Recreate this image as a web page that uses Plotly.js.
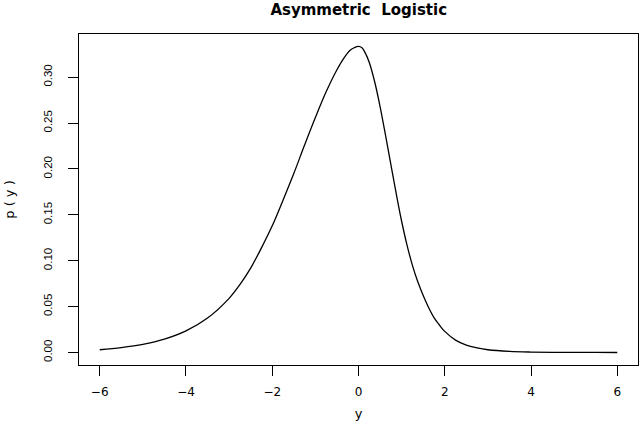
<!DOCTYPE html>
<html>
<head>
<meta charset="utf-8">
<script src="https://cdn.plot.ly/plotly-3.0.1.min.js"></script>
<style>
html, body { margin: 0; padding: 0; background: #fff; }
#chart { width: 640px; height: 421px; }
</style>
</head>
<body>
<div id="chart"></div>
<script>
// Values
const yValues = [-6, -5.5, -5, -4.5, -4, -3.5, -3, -2.75, -2.5, -2.25, -2, -1.75, -1.5, -1.25, -1, -0.75, -0.5, -0.35, -0.2, -0.1, 0,
                 0.08, 0.15, 0.25, 0.375, 0.5, 0.625, 0.75, 0.875, 1, 1.125, 1.25, 1.375, 1.5, 1.625, 1.75, 1.875, 2,
                 2.25, 2.5, 2.75, 3, 3.5, 4, 4.5, 5, 5.5, 6];
const density = [0.003, 0.0053, 0.0088, 0.0145, 0.0235, 0.0375, 0.059, 0.074, 0.092, 0.114, 0.138, 0.166, 0.195, 0.226, 0.256, 0.284, 0.308, 0.320, 0.329, 0.332, 0.3335,
                 0.332, 0.327, 0.316, 0.295, 0.268, 0.237, 0.205, 0.173, 0.143, 0.117, 0.095, 0.077, 0.062, 0.049, 0.038, 0.030, 0.023,
                 0.0135, 0.008, 0.005, 0.003, 0.0012, 0.0005, 0.0002, 0.0001, 0.00005, 0.0];
const xTicks = [-6, -4, -2, 0, 2, 4, 6];
const yTicks = [0, 0.05, 0.10, 0.15, 0.20, 0.25, 0.30];

const trace = {
  x: yValues,
  y: density,
  type: 'scatter',
  mode: 'lines',
  line: { color: '#000', width: 1.3, shape: 'spline', smoothing: 1 },
  hoverinfo: 'skip'
};

const layout = {
  width: 640,
  height: 421,
  margin: { l: 79, r: 2, t: 34, b: 56 },
  paper_bgcolor: '#fff',
  plot_bgcolor: '#fff',
  showlegend: false,
  title: {
    text: 'Asymmetric  Logistic',
    font: { family: 'DejaVu Sans', size: 15, color: '#000', weight: 'bold' },
    x: 0.5605, xanchor: 'center',
    y: 0.977, yanchor: 'middle', yref: 'container'
  },
  xaxis: {
    range: [-6.48, 6.48],
    tickvals: xTicks,
    ticktext: xTicks.map(v => v < 0 ? '\u2212' + Math.abs(v) : String(v)),
    ticks: 'outside', ticklen: 10, tickwidth: 1, tickcolor: '#000',
    ticklabelstandoff: 6,
    showline: true, linecolor: '#000', linewidth: 1, mirror: true,
    showgrid: false, zeroline: false,
    tickfont: { family: 'DejaVu Sans', size: 12, color: '#000' },
    title: { text: 'y', font: { family: 'DejaVu Sans', size: 13, color: '#000' }, standoff: 11 }
  },
  yaxis: {
    range: [-0.0136, 0.347],
    tickvals: yTicks,
    ticktext: yTicks.map(v => v.toFixed(2)),
    tickangle: -90,
    ticks: 'outside', ticklen: 10, tickwidth: 1, tickcolor: '#000',
    ticklabelstandoff: 11,
    showline: true, linecolor: '#000', linewidth: 1, mirror: true,
    showgrid: false, zeroline: false,
    tickfont: { family: 'Liberation Sans', size: 11.5, color: '#000' },
    title: { text: 'p ( y )', font: { family: 'DejaVu Sans', size: 13, color: '#000' }, standoff: 24 }
  }
};

Plotly.newPlot('chart', [trace], layout, { staticPlot: true, displayModeBar: false });
</script>
</body>
</html>
